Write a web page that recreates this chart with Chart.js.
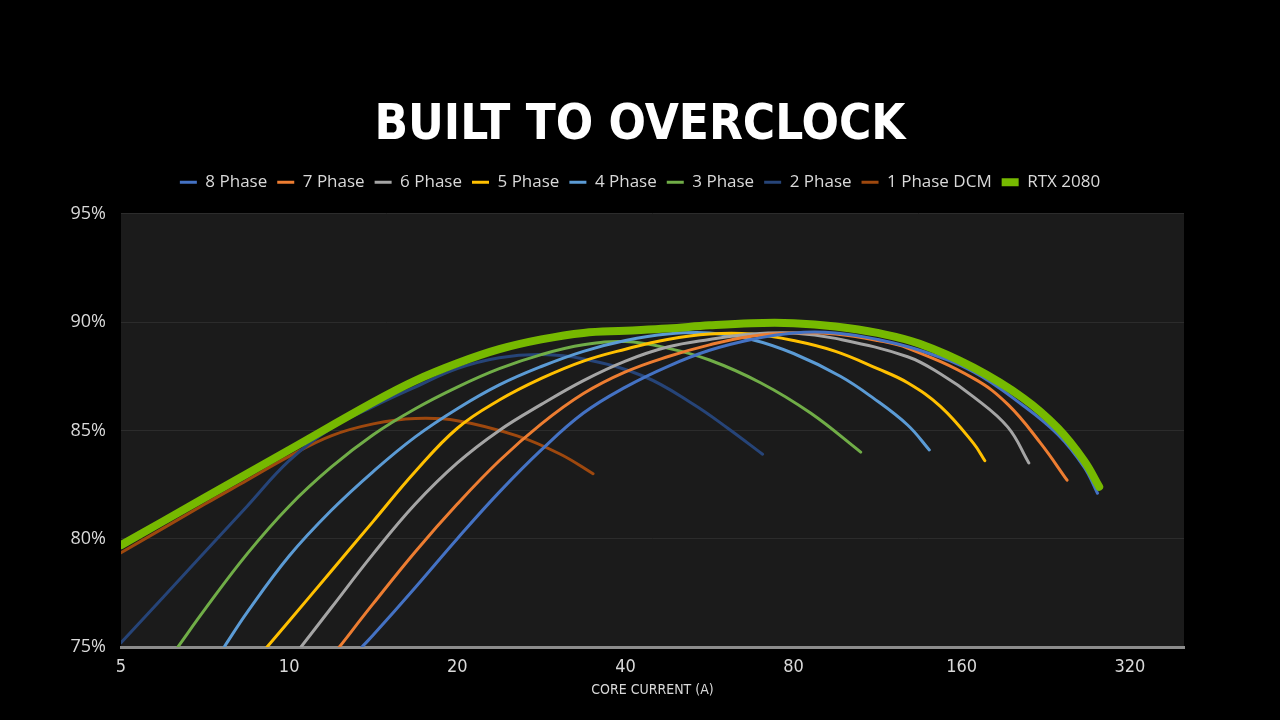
<!DOCTYPE html>
<html>
<head>
<meta charset="utf-8">
<script src="https://cdn.jsdelivr.net/npm/chart.js@4.4.0/dist/chart.umd.min.js"></script>
<style>
  html, body { margin: 0; padding: 0; background: #000; }
  canvas { display: block; }
</style>
</head>
<body>
<canvas id="miGrafico" width="1280" height="720"></canvas>
<script>
// [core current (A), efficiency (%)]
const phase8 = [[13.5, 75], [14.14, 75.55], [16.82, 77.75], [20, 80.0], [23.78, 82.15], [28.28, 84.1], [33.64, 85.8],
  [40, 87.0], [47.57, 87.95], [56.57, 88.7], [67.27, 89.2], [80, 89.5], [95.1, 89.5], [113.1, 89.2], [134.5, 88.7],
  [168, 87.7], [206, 86.15], [238, 84.8], [265, 83.3], [280, 82.1]];
const phase7 = [[12.3, 75], [14.14, 77.0], [16.82, 79.4], [20, 81.6], [23.78, 83.6], [28.28, 85.3], [33.64, 86.7],
  [40, 87.7], [47.57, 88.4], [56.57, 88.95], [67.27, 89.35], [80, 89.5], [95.1, 89.45], [113.1, 89.15], [128, 88.8],
  [168, 87.4], [193.5, 86.2], [221.6, 84.4], [247, 82.7]];
const phase6 = [[10.5, 75], [11.89, 76.8], [14.14, 79.3], [16.82, 81.6], [20, 83.5], [23.78, 85.0], [28.28, 86.2],
  [33.64, 87.3], [40, 88.2], [47.57, 88.85], [56.57, 89.2], [67.27, 89.45], [80, 89.5], [95.1, 89.25], [128, 88.4],
  [146.7, 87.6], [168, 86.55], [193.5, 85.15], [211, 83.5]];
const phase5 = [[9.13, 75], [10, 76.2], [11.89, 78.5], [14.14, 80.8], [16.82, 83.1], [20, 85.1], [23.78, 86.4],
  [28.28, 87.4], [33.64, 88.2], [40, 88.75], [47.57, 89.2], [56.57, 89.45], [67.27, 89.45], [80, 89.15], [95.1, 88.65],
  [113.1, 87.85], [128, 87.2], [146.7, 86.1], [168, 84.4], [176, 83.6]];
const phase4 = [[7.65, 75], [8.41, 76.6], [10, 79.2], [11.89, 81.3], [14.14, 83.1], [16.82, 84.7], [20, 86.0],
  [23.78, 87.1], [28.28, 87.95], [33.64, 88.65], [40, 89.15], [47.57, 89.45], [56.57, 89.5], [67.27, 89.2], [80, 88.55],
  [97, 87.5], [111, 86.5], [128, 85.25], [140, 84.1]];
const phase3 = [[6.32, 75], [7.07, 76.75], [8.41, 79.3], [10, 81.5], [11.89, 83.3], [14.14, 84.8], [16.82, 86.0],
  [20, 87.0], [23.78, 87.85], [28.28, 88.5], [33.64, 88.95], [40, 89.1], [47.57, 88.8], [56.57, 88.25], [69.8, 87.2],
  [85.8, 85.8], [105.5, 84.0]];
const phase2 = [[5, 75.2], [5.95, 77.3], [7.07, 79.4], [8.41, 81.5], [10, 83.6], [11.89, 85.1], [14.14, 86.1],
  [16.82, 87.0], [20, 87.85], [23.78, 88.35], [28.28, 88.5], [33.64, 88.3], [43.1, 87.5], [53, 86.2], [61, 85.1],
  [70.4, 83.9]];
const phase1Dcm = [[5, 79.35], [7.07, 81.6], [8.41, 82.7], [10, 83.8], [11.89, 84.75], [14.14, 85.3], [16.82, 85.55],
  [20, 85.45], [25.6, 84.75], [30.6, 83.9], [35, 83.0]];
const rtx2080 = [[5, 79.7], [7.07, 81.9], [10, 84.1], [14.14, 86.3], [16.82, 87.3], [20, 88.1], [23.78, 88.75],
  [28.28, 89.2], [33.64, 89.5], [40, 89.6], [47.57, 89.7], [56.57, 89.85], [67.27, 89.95], [80, 89.95], [95.1, 89.8],
  [113.1, 89.5], [134.5, 89.0], [168, 87.9], [206, 86.5], [238, 85.1], [265, 83.6], [282, 82.4]];

const seriesNames = ['8 Phase', '7 Phase', '6 Phase', '5 Phase', '4 Phase', '3 Phase', '2 Phase', '1 Phase DCM', 'RTX 2080'];
const seriesData = [phase8, phase7, phase6, phase5, phase4, phase3, phase2, phase1Dcm, rtx2080];
const colors = ['#4472c4', '#ed7d31', '#a5a5a5', '#ffc000', '#5b9bd5', '#70ad47', '#264478', '#9e480e', '#76b900'];
const xTicks = [5, 10, 20, 40, 80, 160, 320];

const fondoPlot = {
  id: 'fondoPlot',
  beforeDraw(chart) {
    const { ctx, chartArea } = chart;
    ctx.save();
    ctx.fillStyle = '#1b1b1b';
    ctx.fillRect(chartArea.left, chartArea.top, chartArea.right - chartArea.left, chartArea.bottom - chartArea.top);
    ctx.restore();
  },
};

const legendGap = {
  id: 'legendGap',
  beforeInit(chart) {
    const fitOrig = chart.legend.fit;
    chart.legend.fit = function () {
      fitOrig.bind(chart.legend)();
      this.height += 13;
    };
  },
};

const datasets = seriesNames.map((name, i) => ({
  label: name,
  data: seriesData[i],
  borderColor: colors[i],
  backgroundColor: colors[i],
  borderWidth: name === 'RTX 2080' ? 8 : 3,
  borderCapStyle: 'round',
  borderJoinStyle: 'round',
  pointRadius: 0,
  tension: 0.4,
  order: name === 'RTX 2080' ? -1 : 0,
}));

const condensed = "'DejaVu Sans Condensed', 'Liberation Sans Narrow', 'Roboto Condensed', sans-serif";

const ctx = document.getElementById('miGrafico');

const myChart = new Chart(ctx, {
  type: 'line',
  data: { datasets },
  options: {
    responsive: false,
    animation: false,
    layout: { padding: 0 },
    plugins: {
      title: {
        display: true,
        text: 'BUILT TO OVERCLOCK',
        color: '#ffffff',
        font: { family: "'DejaVu Sans Condensed', 'DejaVu Sans', sans-serif", size: 49, weight: 'bold' },
        padding: { top: 97, bottom: 8 },
      },
      legend: {
        position: 'top',
        labels: {
          sort: (a, b) => a.datasetIndex - b.datasetIndex,
          usePointStyle: true,
          pointStyle: 'line',
          pointStyleWidth: 17,
          color: '#d9d9d9',
          padding: 10,
          font: { family: "'Open Sans', sans-serif", size: 17 },
        },
      },
      tooltip: { enabled: false },
    },
    scales: {
      x: {
        type: 'logarithmic',
        min: 5,
        max: 400,
        afterBuildTicks: (scale) => { scale.ticks = xTicks.map(v => ({ value: v })); },
        afterFit: (scale) => { scale.height = 73; },
        grid: { display: false, drawTicks: false },
        border: { display: true, color: '#8c8c8c', width: 3 },
        ticks: {
          color: '#d9d9d9',
          padding: 10,
          maxRotation: 0,
          autoSkip: false,
          font: { family: condensed, size: 18 },
          callback: (v) => String(v),
        },
        title: {
          display: true,
          text: 'CORE CURRENT (A)',
          color: '#d9d9d9',
          font: { family: condensed, size: 14 },
          padding: { top: 0, bottom: 21 },
        },
      },
      y: {
        min: 75,
        max: 95,
        afterFit: (scale) => { scale.width = 121; },
        grid: { color: '#2c2c2c', lineWidth: 1, drawTicks: false },
        border: { display: false },
        ticks: {
          stepSize: 5,
          color: '#d9d9d9',
          padding: 15,
          font: { family: "'Open Sans', sans-serif", size: 18 },
          callback: (v) => v + '%',
        },
      },
      yRight: {
        position: 'right',
        afterFit: (scale) => { scale.width = 96; },
        grid: { display: false, drawTicks: false },
        border: { display: false },
        ticks: { display: false },
      },
    },
  },
  plugins: [fondoPlot, legendGap],
});
</script>
</body>
</html>
